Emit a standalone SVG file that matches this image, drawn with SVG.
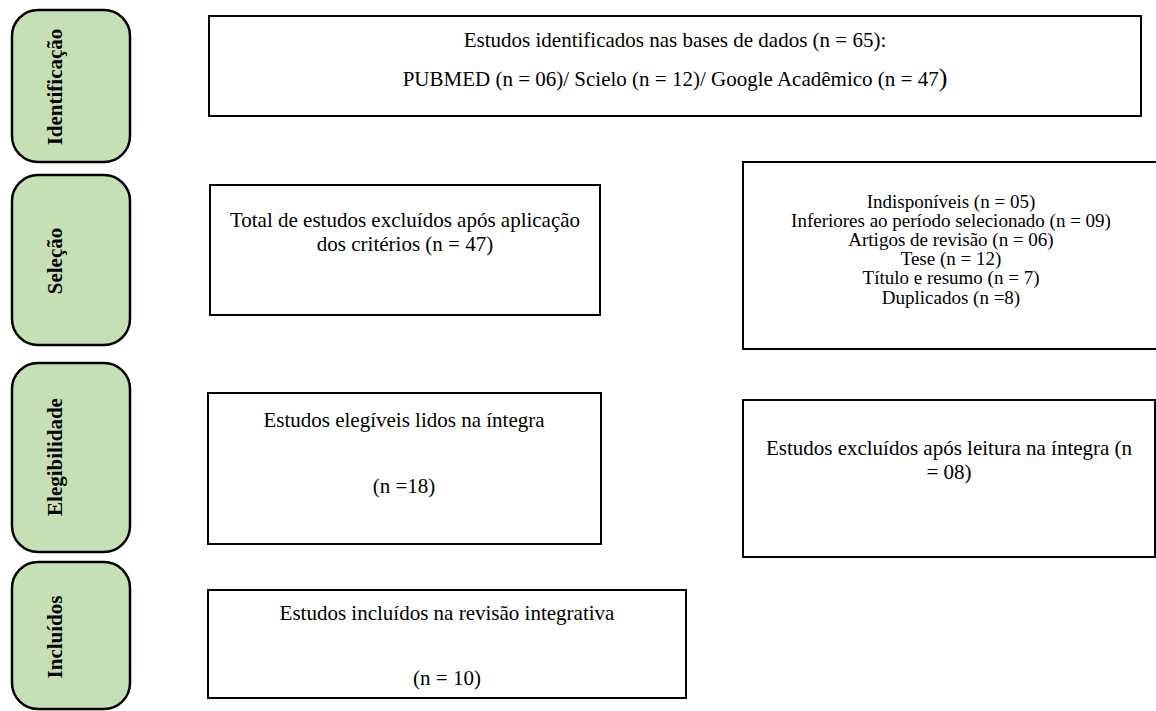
<svg xmlns="http://www.w3.org/2000/svg" width="1156" height="711" viewBox="0 0 1156 711">
<style>
.stage{fill:#c5e0b4;stroke:#000;stroke-width:2.5}
.box{fill:#fff;stroke:#000;stroke-width:2}
.lbl{font-family:"Liberation Serif","Times New Roman",serif;font-weight:bold;font-size:21px;fill:#000;text-anchor:middle;dominant-baseline:central}
.t{font-family:"Liberation Serif","Times New Roman",serif;font-size:21px;fill:#000;text-anchor:middle}
.s{font-size:19px}
</style>
<rect width="1156" height="711" fill="#fff"/>
<g id="stage-identificacao">
<rect class="stage" x="12" y="10" width="118" height="152" rx="26"/>
<text class="lbl" transform="translate(55,87) rotate(-90)">Identificação</text>
</g>
<g id="stage-selecao">
<rect class="stage" x="12" y="175" width="118" height="170" rx="26"/>
<text class="lbl" transform="translate(55,261) rotate(-90)">Seleção</text>
</g>
<g id="stage-elegibilidade">
<rect class="stage" x="12" y="363" width="118" height="189" rx="26"/>
<text class="lbl" transform="translate(55,457) rotate(-90)">Elegibilidade</text>
</g>
<g id="stage-incluidos">
<rect class="stage" x="12" y="562" width="118" height="147" rx="26"/>
<text class="lbl" transform="translate(55,637) rotate(-90)">Incluídos</text>
</g>
<g id="box-identificados">
<rect class="box" x="209" y="16" width="932" height="100"/>
<text class="t" x="675" y="47">Estudos identificados nas bases de dados (n = 65):</text>
<text class="t" x="675" y="86">PUBMED (n = 06)/ Scielo (n = 12)/ Google Acadêmico (n = 47<tspan font-size="26px">)</tspan></text>
</g>
<g id="box-excluidos-criterios">
<rect class="box" x="210" y="185" width="390" height="130"/>
<text class="t" x="405" y="227">Total de estudos excluídos após aplicação</text>
<text class="t" x="405" y="251">dos critérios (n = 47)</text>
</g>
<g id="box-motivos">
<rect class="box" x="743" y="162" width="420" height="187"/>
<text class="t s" x="951" y="208">Indisponíveis (n = 05)</text>
<text class="t s" x="951" y="227">Inferiores ao período selecionado (n = 09)</text>
<text class="t s" x="951" y="246">Artigos de revisão (n = 06)</text>
<text class="t s" x="951" y="265">Tese (n = 12)</text>
<text class="t s" x="951" y="284">Título e resumo (n = 7)</text>
<text class="t s" x="951" y="304">Duplicados (n =8)</text>
</g>
<g id="box-elegiveis">
<rect class="box" x="208" y="393" width="393" height="151"/>
<text class="t" x="404" y="427">Estudos elegíveis lidos na íntegra</text>
<text class="t" x="404" y="493">(n =18)</text>
</g>
<g id="box-excluidos-leitura">
<rect class="box" x="743" y="400" width="412" height="157"/>
<text class="t" x="949" y="455">Estudos excluídos após leitura na íntegra (n</text>
<text class="t" x="949" y="479">= 08)</text>
</g>
<g id="box-incluidos">
<rect class="box" x="208" y="590" width="478" height="108"/>
<text class="t" x="447" y="620">Estudos incluídos na revisão integrativa</text>
<text class="t" x="447" y="685">(n = 10)</text>
</g>
<g id="connectors"></g>
</svg>
